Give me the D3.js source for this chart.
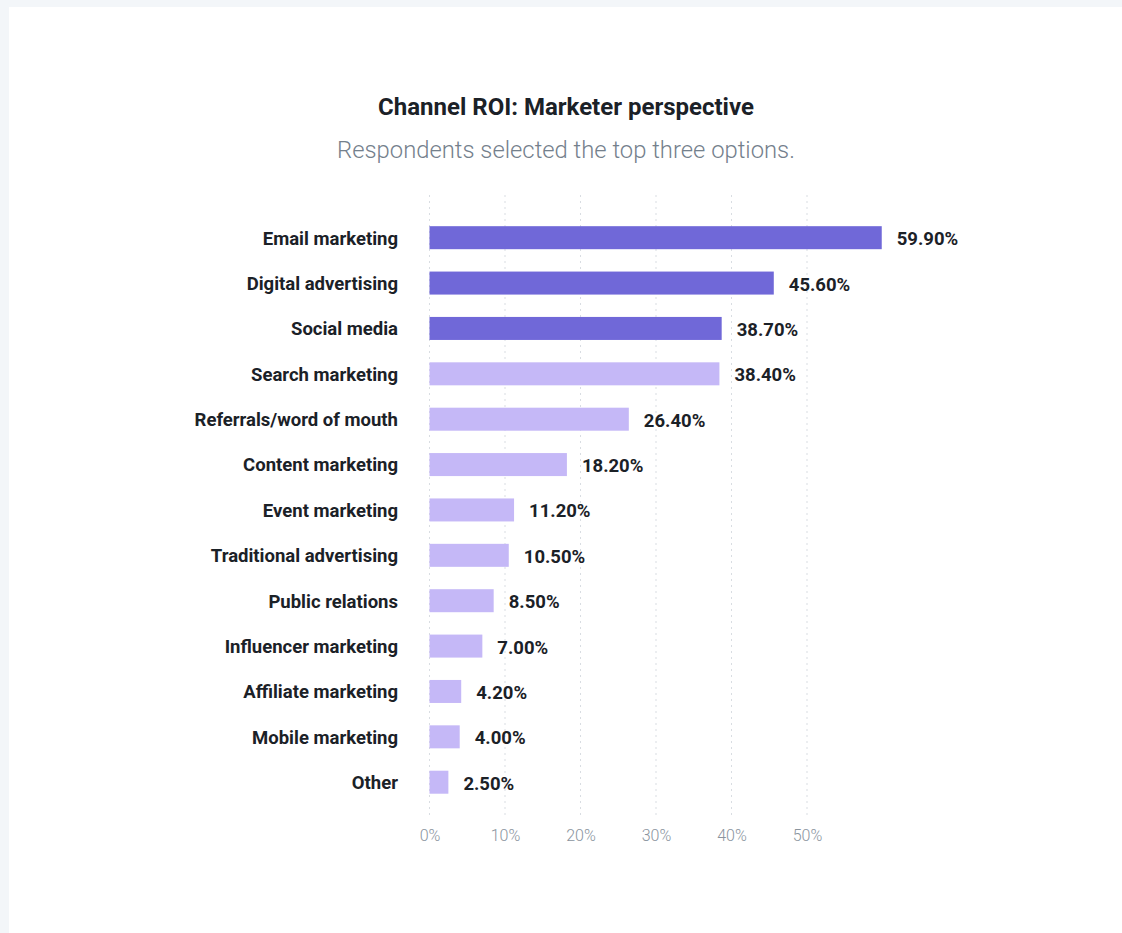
<!DOCTYPE html>
<html>
<head>
<meta charset="utf-8">
<script src="https://cdn.jsdelivr.net/npm/d3@7"></script>
<style>
  html, body { margin: 0; padding: 0; background: #f3f6f9; }
  svg { display: block; }
</style>
</head>
<body>
<svg id="chart" width="1122" height="933"></svg>
<script>
// Channel ROI survey results (% of respondents)
const channels = [
  "Email marketing", "Digital advertising", "Social media", "Search marketing",
  "Referrals/word of mouth", "Content marketing", "Event marketing",
  "Traditional advertising", "Public relations", "Influencer marketing",
  "Affiliate marketing", "Mobile marketing", "Other"
];
const shares = [59.9, 45.6, 38.7, 38.4, 26.4, 18.2, 11.2, 10.5, 8.5, 7.0, 4.2, 4.0, 2.5];
const highlighted = [true, true, true, false, false, false, false, false, false, false, false, false, false];
const tickValues = [0, 10, 20, 30, 40, 50];

const svg = d3.select("#chart");
const W = 1122, H = 933;

// white card
svg.append("rect").attr("x", 9).attr("y", 7).attr("width", W - 9).attr("height", H - 7).attr("fill", "#ffffff");

svg.append("text")
  .attr("x", 566).attr("y", 115)
  .attr("text-anchor", "middle")
  .attr("font-family", "Roboto, sans-serif")
  .attr("font-weight", 700).attr("font-size", 24)
  .attr("fill", "#1b2127")
  .text("Channel ROI: Marketer perspective");

svg.append("text")
  .attr("x", 566).attr("y", 158)
  .attr("text-anchor", "middle")
  .attr("font-family", "Roboto, sans-serif")
  .attr("font-weight", 300).attr("font-size", 23.8)
  .attr("fill", "#74808c")
  .text("Respondents selected the top three options.");

const x = d3.scaleLinear().domain([0, 10]).range([429.5, 505]);
const y = d3.scaleBand().domain(channels).range([215, 804.9]).paddingInner(0.493).paddingOuter(0.2465);

const data = channels.map((c, i) => ({ c, v: shares[i], hi: highlighted[i] }));

// dotted grid
const grid = svg.append("g");
grid.selectAll("line").data(tickValues).join("line")
  .attr("x1", d => x(d)).attr("x2", d => x(d))
  .attr("y1", 195).attr("y2", 818)
  .attr("stroke", "#d9dde2").attr("stroke-width", 1)
  .attr("stroke-dasharray", "2,4");

// x axis labels
const xAxis = d3.axisBottom(x).tickValues(tickValues).tickFormat(d => d + "%").tickSize(0).tickPadding(0);
const ax = svg.append("g").attr("transform", "translate(0,841)").call(xAxis);
ax.select(".domain").remove();
ax.selectAll("text")
  .attr("dy", 0)
  .attr("font-family", "Roboto, sans-serif")
  .attr("font-weight", 300).attr("font-size", 16)
  .attr("fill", "#8a949e");

// bars
svg.append("g").selectAll("rect").data(data).join("rect")
  .attr("x", x(0))
  .attr("y", d => y(d.c))
  .attr("width", d => x(d.v) - x(0))
  .attr("height", y.bandwidth())
  .attr("fill", d => d.hi ? "#7068d8" : "#c5b8f7");

// category labels
const yAxis = d3.axisLeft(y).tickSize(0).tickPadding(0);
const ay = svg.append("g").attr("transform", "translate(398,1)").call(yAxis);
ay.select(".domain").remove();
ay.selectAll("text")
  .attr("font-family", "Roboto, sans-serif")
  .attr("font-weight", 700).attr("font-size", 18.5)
  .attr("fill", "#1b2127");

// value labels
svg.append("g").selectAll("text").data(data).join("text")
  .attr("x", d => x(d.v) + 15)
  .attr("y", d => y(d.c) + y.bandwidth() / 2 + 1)
  .attr("dy", "0.35em")
  .attr("font-family", "Roboto, sans-serif")
  .attr("font-weight", 700).attr("font-size", 18.5)
  .attr("fill", "#1b2127")
  .text(d => d.v.toFixed(2) + "%");
</script>
</body>
</html>
